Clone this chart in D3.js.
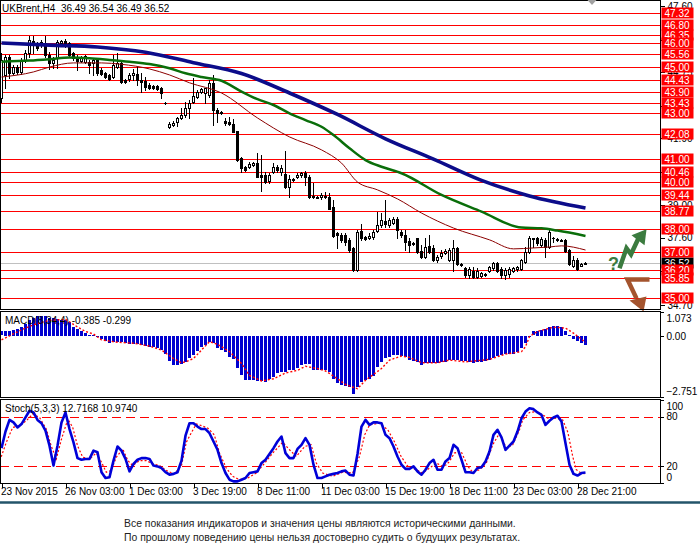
<!DOCTYPE html>
<html>
<head>
<meta charset="utf-8">
<script src="https://cdn.jsdelivr.net/npm/d3@7/dist/d3.min.js"></script>
<style>
  body { margin: 0; background: #fff; }
  svg { display: block; }
  text { font-family: "Liberation Sans", Arial, sans-serif; }
</style>
</head>
<body>
<svg id="chart" width="700" height="552"></svg>
<script>
// UKBrent H4 candles, 23 Nov - 28 Dec 2015
const opens = [43.64,44.64,45.42,44.72,44.98,44.77,45.29,45.59,46.11,45.94,
  45.94,46.02,45.50,45.16,45.37,46.02,46.11,46.02,45.59,45.37,
  45.24,45.20,45.20,45.16,45.29,44.85,44.72,44.64,44.55,44.98,
  45.16,44.42,44.46,44.64,44.68,44.42,44.38,44.21,44.16,44.16,
  44.08,43.43,42.39,42.48,42.61,42.78,42.91,43.21,43.47,43.69,
  43.90,43.86,43.77,44.29,43.13,43.04,42.65,42.61,42.52,42.22,
  41.05,40.66,40.66,40.75,40.83,40.31,40.31,40.06,40.44,40.66,
  40.44,40.36,39.80,40.14,40.23,40.31,40.40,40.23,39.41,39.36,
  39.36,39.41,39.36,38.93,37.81,37.72,37.72,37.51,37.16,36.21,
  37.89,37.63,37.59,37.63,37.89,38.15,38.33,38.15,38.24,38.41,
  37.85,37.72,37.46,37.38,37.59,37.03,36.77,37.25,37.16,36.64,
  36.81,36.94,36.64,36.64,37.16,36.47,36.29,35.99,36.16,35.91,
  35.95,36.04,36.16,36.29,36.51,36.25,35.99,36.04,36.16,36.25,
  36.25,36.55,36.99,37.59,37.59,37.29,37.51,37.20,37.59,37.55,
  37.51,37.51,37.07,36.38,36.64,36.40,36.49];
const highs = [45.59,45.50,45.50,45.07,45.07,45.37,45.72,46.32,46.32,46.06,
  46.15,46.32,45.63,45.42,46.15,46.15,46.19,46.06,45.63,45.50,
  45.46,45.50,45.29,45.37,45.37,44.94,44.77,44.68,45.50,45.59,
  45.20,44.46,44.72,44.90,44.98,44.72,44.55,44.29,44.21,44.21,
  44.12,43.47,42.61,42.65,42.82,43.21,43.47,43.56,44.51,43.99,
  44.08,44.08,44.42,44.64,43.21,43.08,42.78,42.82,42.74,42.22,
  41.09,40.70,40.88,40.88,41.27,41.18,40.44,40.40,40.83,40.75,
  40.75,41.35,40.31,40.19,40.40,40.44,40.49,40.31,39.97,39.41,
  39.54,39.58,39.54,39.23,37.85,37.81,37.81,37.59,37.20,37.94,
  38.18,37.68,37.81,37.94,38.72,38.67,39.23,38.46,38.50,38.50,
  37.94,37.94,37.59,37.42,37.59,37.29,37.59,37.72,37.29,36.86,
  37.07,37.12,37.16,37.51,37.20,36.51,36.34,36.34,36.34,36.29,
  36.12,36.08,36.38,36.55,36.55,36.34,36.29,36.34,36.34,36.38,
  36.68,37.20,37.68,37.59,37.63,37.63,37.59,37.94,37.63,37.59,
  37.55,37.55,37.12,36.81,36.73,36.49,36.54];
const lows = [43.47,44.08,44.51,44.68,44.68,44.68,45.20,45.42,45.59,45.72,
  45.85,45.42,44.90,44.94,44.94,45.94,45.85,45.42,45.29,44.86,
  45.20,45.16,44.72,44.64,44.64,44.64,44.51,44.42,44.51,44.94,
  44.29,44.29,44.38,44.42,44.21,43.90,43.99,44.03,44.03,43.99,
  43.64,43.38,42.35,42.43,42.43,42.74,42.82,42.78,43.43,43.64,
  43.86,43.43,43.69,42.48,42.61,42.95,42.48,42.48,42.17,40.92,
  40.44,40.49,40.62,40.70,40.23,39.62,39.97,39.97,40.40,40.44,
  40.31,39.75,39.36,40.06,40.19,40.23,39.88,39.32,39.32,39.32,
  39.28,39.32,38.85,37.63,37.16,37.42,37.29,36.99,36.16,36.16,
  37.51,37.51,37.55,37.55,37.85,38.07,38.07,38.07,38.20,37.59,
  37.63,37.07,36.99,37.29,36.94,36.73,36.73,36.94,36.60,36.55,
  36.73,36.90,36.60,36.16,36.42,36.38,35.91,35.86,35.86,35.86,
  35.91,35.95,36.12,36.21,36.12,35.86,35.82,35.91,36.12,36.16,
  36.21,36.51,36.94,37.20,37.29,37.20,36.77,37.16,37.42,37.46,
  37.46,36.99,36.42,36.34,36.21,36.36,36.49];
const closes = [45.29,45.42,44.72,44.98,44.77,45.29,45.59,46.15,45.94,45.81,
  46.06,45.50,45.16,45.29,46.06,46.11,45.98,45.50,45.37,45.24,
  45.37,45.46,45.07,45.29,44.72,44.68,44.55,44.46,45.07,45.16,
  44.33,44.33,44.64,44.72,44.42,44.33,44.12,44.08,44.08,44.03,
  43.86,43.41,42.52,42.56,42.78,42.91,43.21,43.43,43.73,43.90,
  44.03,44.08,44.29,43.13,43.00,43.00,42.56,42.52,42.17,40.96,
  40.62,40.53,40.79,40.83,40.23,40.23,40.01,40.31,40.66,40.53,
  40.62,39.80,40.14,40.10,40.31,40.40,40.23,39.36,39.36,39.34,
  39.45,39.36,38.85,37.68,37.72,37.51,37.42,37.07,36.21,37.85,
  37.59,37.55,37.68,37.85,38.15,38.37,38.20,38.37,38.41,37.94,
  37.72,37.42,37.29,37.33,36.99,36.77,37.20,36.99,36.64,36.77,
  36.94,37.03,37.07,37.16,36.47,36.42,35.99,36.25,35.91,36.16,
  36.08,36.04,36.34,36.51,36.16,35.99,36.21,36.25,36.29,36.34,
  36.64,36.99,37.59,37.55,37.38,37.55,37.20,37.85,37.57,37.51,
  37.51,37.03,36.47,36.64,36.25,36.45,36.52];

// moving averages, sampled at bar indices
const slowMaBars = [0,12,24,36,48,60,72,84,96,108,120,132,146];
const slowMaVals = [46.02,45.93,45.85,45.62,45.17,44.70,43.86,42.93,41.88,41.00,40.08,39.41,38.89];
const midMaBars = [0,7,12,17,22,27,32,37,42,46,50,55,60,64,68,72,76,80,83,87,91,95,100,110,120,130,135,139,146];
const midMaVals = [45.21,45.26,45.32,45.39,45.36,45.29,45.21,45.11,44.93,44.71,44.55,44.39,43.92,43.59,43.34,42.98,42.69,42.40,42.04,41.47,40.96,40.67,40.39,39.45,38.73,38.04,38.01,37.91,37.68];
const fastMaBars = [0,8,12,18,25,30,37,42,47,55,64,72,80,85,89,94,99,105,113,122,128,133,137,140,146];
const fastMaVals = [44.55,44.77,44.98,45.16,45.16,45.10,44.90,44.64,44.30,43.86,42.78,41.96,41.40,40.83,40.01,39.67,39.28,38.67,38.02,37.51,37.12,37.16,37.20,37.25,37.07];

// horizontal levels and price scale
const levels = [47.32,46.80,46.35,46.00,45.56,45.00,44.43,43.90,43.43,43.00,42.08,41.00,40.46,40.00,39.44,38.77,38.00,37.00,36.20,35.85,35.00];
const axisTicks = [47.60,46.15,44.75,43.30,41.90,40.45,39.00,37.60,36.15,34.70];
const lastPrice = 36.52;

// time axis
const timeTickBars = [0,16,32,48,64,80,96,112,128,144];
const timeLabels = ["23 Nov 2015","26 Nov 03:00","1 Dec 03:00","3 Dec 19:00","8 Dec 11:00",
  "11 Dec 03:00","15 Dec 19:00","18 Dec 11:00","23 Dec 03:00","28 Dec 21:00"];

// MACD(8,34,4)
const macdHist = [0.20,0.23,0.24,0.27,0.30,0.42,0.55,0.70,0.80,0.88,
  0.91,0.88,0.80,0.80,0.76,0.73,0.70,0.61,0.42,0.30,
  0.23,0.12,0.06,0.03,-0.06,-0.15,-0.21,-0.33,-0.26,-0.26,
  -0.26,-0.33,-0.36,-0.38,-0.38,-0.41,-0.46,-0.49,-0.49,-0.53,
  -0.61,-0.79,-1.12,-1.29,-1.29,-1.24,-1.17,-1.00,-0.85,-0.68,
  -0.50,-0.40,-0.26,-0.33,-0.56,-0.64,-0.71,-0.94,-1.02,-1.43,
  -1.75,-1.96,-1.97,-1.97,-2.03,-2.03,-2.08,-1.93,-1.85,-1.67,
  -1.62,-1.62,-1.55,-1.52,-1.43,-1.32,-1.27,-1.27,-1.52,-1.52,
  -1.55,-1.55,-1.62,-1.93,-2.12,-2.19,-2.23,-2.31,-2.61,-2.28,
  -2.08,-1.97,-1.93,-1.82,-1.40,-1.17,-0.99,-0.94,-0.86,-0.86,
  -0.91,-0.94,-1.09,-1.12,-1.17,-1.32,-1.21,-1.21,-1.20,-1.21,
  -1.17,-1.17,-1.06,-1.06,-1.09,-1.12,-1.12,-1.17,-1.21,-1.17,
  -1.17,-1.14,-1.09,-0.97,-0.91,-0.86,-0.83,-0.82,-0.79,-0.71,
  -0.56,-0.30,0.01,0.20,0.24,0.27,0.30,0.42,0.46,0.46,
  0.42,0.20,0.05,-0.15,-0.21,-0.33,-0.385];
const macdSigBars = [0,2,5,8,12,16,19,21,23,25,29,33,37,40,43,45,46,48,50,52,
  54,57,60,62,65,68,71,74,76,79,81,84,86,89,91,95,97,100,102,105,
  109,112,116,122,126,130,131,132,134,138,141,143,145,146];
const macdSigVals = [-0.18,0.00,0.27,0.50,0.70,0.74,0.40,0.20,0.08,-0.18,-0.29,-0.33,-0.46,-0.64,-1.02,-1.21,-1.17,-1.02,-0.64,-0.26,
  -0.38,-0.71,-1.24,-1.78,-2.03,-1.93,-1.67,-1.55,-1.37,-1.47,-1.58,-1.93,-2.19,-2.38,-2.00,-1.47,-1.09,-0.91,-0.97,-1.21,
  -1.21,-1.09,-1.17,-1.06,-0.82,-0.71,-0.49,-0.03,0.20,0.39,0.35,0.12,-0.15,-0.299];
const macdTicks = [1.073, 0, -2.751];

// Stoch(5,3,3)
const stochK = [42,62,76,73,67,71,79,87,85,76,
  72,63,45,21,45,73,85,65,49,30,
  28,29,29,39,37,13,6,7,27,44,
  39,29,14,23,28,30,30,29,21,20,
  18,13,10,11,13,27,57,72,72,68,
  65,65,60,50,40,24,12,4,2,2,
  4,6,12,13,14,24,28,35,42,50,
  56,36,30,30,41,46,54,46,22,6,
  6,8,10,11,12,14,15,10,9,35,
  68,76,70,73,73,72,58,54,44,32,
  22,17,17,20,14,10,16,24,28,16,
  16,26,30,46,42,28,13,13,12,18,
  19,26,38,58,64,55,40,45,50,62,
  78,86,90,89,85,82,70,75,79,81,
  74,48,22,11,9,12,12.72];
const stochDBars = [-0.4,1.2,2.8,4.5,6.2,7.8,9.5,11.2,12.4,13.7,15,16.6,17.8,19,20.3,22,23.7,25,26.2,27.4,
  28.7,30.3,31.6,32.8,34.5,36.2,37.8,39.5,41.6,43.2,45,46.2,47.4,48.7,49.5,51.6,53.2,54.5,56.2,57.8,
  59.5,61.6,63.7,65.8,67.8,70.3,72,73.7,75.8,77.4,78.7,80.3,82.8,85.3,87.8,89.5,90.8,92,94.5,96.6,
  98.2,99.9,101.6,103.7,105.3,107,108.7,110.3,111.2,112,113.2,114.9,116.6,117.8,119.5,121.2,122.8,124.5,126.2,127.8,
  129.5,130.3,132,133.7,135.3,137,138.7,140.3,141.6,142.8,143.7,144.9,146];
const stochDVals = [27,49,67,69,75,83,79,65,45,29,53,77,67,45,31,29,36,25,13,15,
  31,41,27,21,27,27,23,21,14,11,21,49,60,71,70,66,58,36,18,8,
  4,6,12,24,36,49,40,32,44,46,24,12,8,13,12,32,58,70,72,64,
  50,32,20,16,12,18,24,20,22,26,36,38,20,13,16,24,46,60,42,46,
  64,76,85,86,82,77,78,76,61,32,16,12,10.974];
const stochLevels = [80, 20];
const stochTicks = [100, 80, 20, 0];

const footer = ["Все показания индикаторов и значения цены являются историческими данными.",
  "По прошлому поведению цены нельзя достоверно судить о будущих результатах."];

// ---- layout ----
const svg = d3.select("#chart");
const plotR = 660.5;
const P = { mainTop: 0.5, mainBot: 309.5, macdTop: 311.5, macdBot: 397.5, stTop: 399.5, stBot: 483.5 };

const x = d3.scaleLinear().domain([0, 146]).range([1.5, 585.5]);
const yP = d3.scaleLinear().domain([34.52, 47.88]).range([309, 0]);
const yM = d3.scaleLinear().domain([-2.751, 1.073]).range([397, 312]);
const yS = d3.scaleLinear().domain([0, 100]).range([483, 400]);
const px = v => Math.round(v) + 0.5;

const defs = svg.append("defs");
[["clipMain", P.mainTop, P.mainBot], ["clipMacd", P.macdTop, P.macdBot], ["clipSt", P.stTop, P.stBot]]
  .forEach(([id, t, b]) => defs.append("clipPath").attr("id", id).append("rect")
    .attr("x", 0.5).attr("y", t).attr("width", plotR - 0.5).attr("height", b - t));

// ---- main panel ----
const main = svg.append("g").attr("clip-path", "url(#clipMain)");

main.selectAll("line.level").data(levels).join("line")
  .attr("class", "level")
  .attr("x1", 0).attr("x2", plotR)
  .attr("y1", d => px(yP(d))).attr("y2", d => px(yP(d)))
  .attr("stroke", "#ff0000").attr("stroke-width", 1);

main.append("line")
  .attr("x1", 0).attr("x2", plotR)
  .attr("y1", px(yP(lastPrice))).attr("y2", px(yP(lastPrice)))
  .attr("stroke", "#c0c0c0");

const bars = d3.range(opens.length);
const candles = main.append("g").attr("shape-rendering", "crispEdges");
candles.selectAll("line").data(bars).join("line")
  .attr("x1", i => x(i)).attr("x2", i => x(i))
  .attr("y1", i => Math.round(yP(highs[i]))).attr("y2", i => Math.round(yP(lows[i])) + 1)
  .attr("stroke", "#000");
candles.selectAll("rect").data(bars).join("rect")
  .each(function (i) {
    const up = closes[i] >= opens[i];
    const top = Math.round(yP(Math.max(opens[i], closes[i])));
    const bot = Math.round(yP(Math.min(opens[i], closes[i])));
    const r = d3.select(this);
    if (up) {
      r.attr("x", x(i) - 1).attr("width", 2)
        .attr("y", top + 0.5).attr("height", Math.max(1, bot - top))
        .attr("fill", "#fff").attr("stroke", "#000");
    } else {
      r.attr("x", x(i) - 1.5).attr("width", 3)
        .attr("y", top).attr("height", Math.max(1, bot - top + 1))
        .attr("fill", "#000");
    }
  });

const maLine = d3.line().x(d => x(d[0])).y(d => yP(d[1])).curve(d3.curveMonotoneX);
main.append("path").datum(fastMaBars.map((b, k) => [b, fastMaVals[k]]))
  .attr("d", maLine).attr("fill", "none").attr("stroke", "#8b0000").attr("stroke-width", 1);
main.append("path").datum(midMaBars.map((b, k) => [b, midMaVals[k]]))
  .attr("d", maLine).attr("fill", "none").attr("stroke", "#0a6e0a").attr("stroke-width", 2.5);
main.append("path").datum(slowMaBars.map((b, k) => [b, slowMaVals[k]]))
  .attr("d", maLine).attr("fill", "none").attr("stroke", "#0c0c8a").attr("stroke-width", 3.6);

// forecast arrows placed on the price scale to the right of the last bar
const green = "#3b7b3f", brown = "#a4542e";
const ga = svg.append("g").attr("transform", `translate(${x(154.5)},${yP(36.28)})`);
ga.append("path").attr("d", "M0,0 L7,-20 L11.5,-14 L19,-30")
  .attr("fill", "none").attr("stroke", green).attr("stroke-width", 4.5).attr("stroke-linejoin", "miter");
ga.append("path").attr("d", "M27,-39 L12,-33 L25,-23 Z").attr("fill", green);
svg.append("text").attr("x", x(151.6)).attr("y", yP(36.2))
  .attr("font-size", 18).attr("font-weight", "bold").attr("fill", green).text("?");
const ba = svg.append("g").attr("transform", `translate(${x(156.5)},${yP(35.80)})`);
ba.append("path").attr("d", "M22,0 L0,0 L9,19")
  .attr("fill", "none").attr("stroke", brown).attr("stroke-width", 4.5).attr("stroke-linejoin", "miter");
ba.append("path").attr("d", "M16,32 L2,21 L19,17 Z").attr("fill", brown);

// ---- MACD panel ----
const macd = svg.append("g").attr("clip-path", "url(#clipMacd)");
macd.selectAll("rect").data(bars).join("rect")
  .attr("x", i => x(i) - 1.5).attr("width", 3)
  .attr("y", i => Math.round(Math.min(yM(0), yM(macdHist[i]))))
  .attr("height", i => Math.max(1, Math.round(Math.abs(yM(macdHist[i]) - yM(0)))))
  .attr("fill", "#0000d0").attr("shape-rendering", "crispEdges");
macd.append("path").datum(macdSigBars.map((b, k) => [b, macdSigVals[k]]))
  .attr("d", d3.line().x(d => x(d[0])).y(d => yM(d[1])))
  .attr("fill", "none").attr("stroke", "#ff0000").attr("stroke-width", 1.4).attr("stroke-dasharray", "2,2");

// ---- Stochastic panel ----
const st = svg.append("g").attr("clip-path", "url(#clipSt)");
st.selectAll("line").data(stochLevels).join("line")
  .attr("x1", 0).attr("x2", plotR)
  .attr("y1", d => px(yS(d))).attr("y2", d => px(yS(d)))
  .attr("stroke", "#ff0000").attr("stroke-dasharray", "9,5");
st.append("path").datum(stochDBars.map((b, k) => [b, stochDVals[k]]))
  .attr("d", d3.line().x(d => x(d[0])).y(d => yS(d[1])))
  .attr("fill", "none").attr("stroke", "#ff0000").attr("stroke-width", 1.2).attr("stroke-dasharray", "2,2");
st.append("path").datum(stochK)
  .attr("d", d3.line().x((d, i) => x(i)).y(d => yS(d)))
  .attr("fill", "none").attr("stroke", "#0000d8").attr("stroke-width", 2.6).attr("stroke-linejoin", "round");

// ---- frames ----
[[P.mainTop, P.mainBot], [P.macdTop, P.macdBot], [P.stTop, P.stBot]].forEach(([t, b]) =>
  svg.append("rect").attr("x", 0.5).attr("y", t).attr("width", plotR - 0.5).attr("height", b - t)
    .attr("fill", "none").attr("stroke", "#000").attr("shape-rendering", "crispEdges"));

// ---- axes ----
function styleAxis(g) {
  g.attr("font-family", null).attr("font-size", null);
  g.select(".domain").remove();
  g.selectAll("text").attr("font-size", 10).attr("fill", "#000");
  g.selectAll(".tick line").attr("stroke", "#000").attr("shape-rendering", "crispEdges");
}

svg.append("g").attr("transform", `translate(${plotR},0)`)
  .call(d3.axisRight(yP).tickValues(axisTicks).tickSize(4).tickSizeOuter(0).tickFormat(d3.format(".2f")))
  .call(styleAxis);

// current price tag and level tags
const tag = (v, fill) => {
  const g = svg.append("g").attr("transform", `translate(${plotR + 1},${Math.round(yP(v))})`);
  g.append("rect").attr("x", 0).attr("y", -5.5).attr("width", 32).attr("height", 11).attr("fill", fill);
  g.append("text").attr("x", 3).attr("y", 4).attr("font-size", 10).attr("fill", "#fff").text(d3.format(".2f")(v));
};
tag(lastPrice, "#000");
levels.forEach(v => tag(v, "#ff0000"));

svg.append("g").attr("transform", `translate(${plotR},0)`)
  .call(d3.axisRight(yM).tickValues(macdTicks).tickSize(3).tickSizeOuter(0)
    .tickFormat(d => d === 0 ? "0.00" : d3.format(".3f")(d)))
  .call(styleAxis)
  .call(g => g.selectAll("text").attr("dy", d => d > 0 ? "0.95em" : d < 0 ? "-0.3em" : "0.32em"));

svg.append("g").attr("transform", `translate(${plotR},0)`)
  .call(d3.axisRight(yS).tickValues(stochTicks).tickSize(3).tickSizeOuter(0))
  .call(styleAxis)
  .call(g => g.selectAll("text").attr("dy", d => d === 100 ? "0.95em" : d === 0 ? "-0.3em" : "0.32em"));

svg.append("g").attr("transform", `translate(0,${P.stBot})`)
  .call(d3.axisBottom(x).tickValues(timeTickBars).tickSize(4).tickSizeOuter(0)
    .tickFormat((d, i) => timeLabels[i]))
  .call(styleAxis)
  .call(g => g.selectAll("text").attr("text-anchor", "start").attr("x", -1).attr("y", 4));

// ---- titles ----
svg.append("text").attr("x", 2).attr("y", 12).attr("font-size", 10).attr("xml:space", "preserve")
  .text("UKBrent,H4  36.49 36.54 36.49 36.52");
svg.append("text").attr("x", 5).attr("y", 324).attr("font-size", 10).text("MACD(8,34,4) -0.385 -0.299");
svg.append("text").attr("x", 5).attr("y", 412).attr("font-size", 10).text("Stoch(5,3,3) 12.7168 10.9740");

// MT4 chart-shift marker
svg.append("path").attr("d", `M${x(146.5)},0 l9,0 l-4.5,5 Z`).attr("fill", "#a0a0a0");

// ---- footer ----
svg.append("line").attr("x1", 0).attr("x2", 700).attr("y1", 502.5).attr("y2", 502.5)
  .attr("stroke", "#23546a").attr("stroke-width", 2.5);
svg.selectAll("text.foot").data(footer).join("text")
  .attr("class", "foot").attr("x", 124).attr("y", (d, i) => 527 + i * 13.5)
  .attr("font-size", 10.4).attr("fill", "#222").text(d => d);
</script>
</body>
</html>
